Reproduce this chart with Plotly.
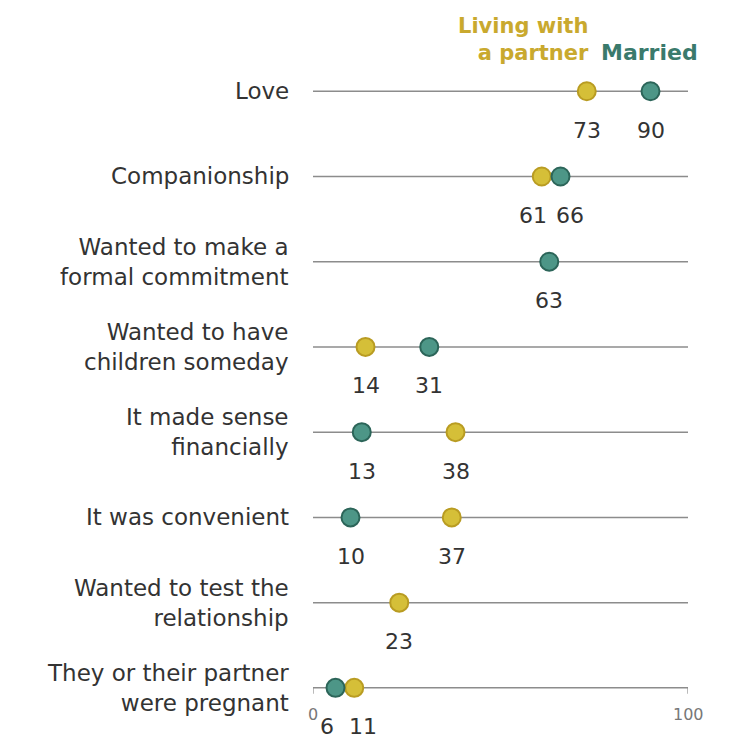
import plotly.graph_objects as go

categories = [
    "Love",
    "Companionship",
    "Wanted to make a<br>formal commitment",
    "Wanted to have<br>children someday",
    "It made sense<br>financially",
    "It was convenient",
    "Wanted to test the<br>relationship",
    "They or their partner<br>were pregnant",
]
married = [90, 66, 63, 31, 13, 10, None, 6]
living = [73, 61, None, 14, 38, 37, 23, 11]
axis_ticks = [0, 100]

GOLD_FILL = "#d5bf38"
GOLD_LINE = "#b99c22"
GOLD_TEXT = "#c9a92e"
TEAL_FILL = "#4d9687"
TEAL_LINE = "#2c6559"
TEAL_TEXT = "#3a7a6c"
LABEL = "#333333"
FONT = "DejaVu Sans, Verdana, sans-serif"

ys = list(range(len(categories)))
fig = go.Figure()

shapes = []
for i in ys:
    shapes.append(dict(type="line", xref="x", yref="y", x0=0, x1=100, y0=i, y1=i,
                       line=dict(color="#8c8c8c", width=1.5), layer="below"))

last = ys[-1]
for t in axis_ticks:
    shapes.append(dict(type="line", xref="x", yref="y", x0=t, x1=t, y0=last, y1=last + 0.07,
                       line=dict(color="#8c8c8c", width=1.2), layer="below"))

fig.add_trace(go.Scatter(
    x=living, y=ys, mode="markers", name="Living with a partner",
    marker=dict(size=18, color=GOLD_FILL, line=dict(color=GOLD_LINE, width=2)),
    hoverinfo="x+name", showlegend=False))
fig.add_trace(go.Scatter(
    x=married, y=ys, mode="markers", name="Married",
    marker=dict(size=18, color=TEAL_FILL, line=dict(color=TEAL_LINE, width=2)),
    hoverinfo="x+name", showlegend=False))

ann = []
for i, cat in enumerate(categories):
    ann.append(dict(x=0, y=i, xref="x", yref="y", text=cat, showarrow=False,
                    xanchor="right", yanchor="middle", align="right", xshift=-22,
                    font=dict(size=23, color=LABEL, family=FONT)))
    m, l = married[i], living[i]
    for v, other in ((m, l), (l, m)):
        if v is None:
            continue
        shift = 0
        if other is not None and abs(v - other) < 8:
            shift = 9 if v > other else -9
        ann.append(dict(x=v, y=i, xref="x", yref="y", text=str(v), showarrow=False,
                        xanchor="center", yanchor="middle", yshift=-39, xshift=shift,
                        font=dict(size=22, color=LABEL, family=FONT)))

for t in axis_ticks:
    ann.append(dict(x=t, y=last, xref="x", yref="y", text=str(t), showarrow=False,
                    xanchor="center", yanchor="middle", yshift=-27,
                    font=dict(size=16, color="#777777", family=FONT)))

ann.append(dict(x=74.2, y=-0.29, xref="x", yref="y", text="<b>Living with<br>a partner</b>",
                showarrow=False, xanchor="right", yanchor="bottom", align="right",
                font=dict(size=21, color=GOLD_TEXT, family=FONT)))
ann.append(dict(x=76.3, y=-0.29, xref="x", yref="y", text="<b>Married</b>",
                showarrow=False, xanchor="left", yanchor="bottom", align="left",
                font=dict(size=22, color=TEAL_TEXT, family=FONT)))

fig.update_layout(
    width=749, height=742,
    margin=dict(l=313, r=61, t=6, b=3),
    paper_bgcolor="white", plot_bgcolor="white",
    shapes=shapes, annotations=ann,
    xaxis=dict(range=[0, 100], visible=False, fixedrange=True),
    yaxis=dict(range=[7.6, -1.0], visible=False, fixedrange=True),
)

fig.write_html("out.html", config={"displayModeBar": False})

with open("out.html", "r", encoding="utf-8") as f:
    html = f.read()
html = html.replace("<body>", '<body style="margin:0;padding:0;">', 1)
with open("out.html", "w", encoding="utf-8") as f:
    f.write(html)
